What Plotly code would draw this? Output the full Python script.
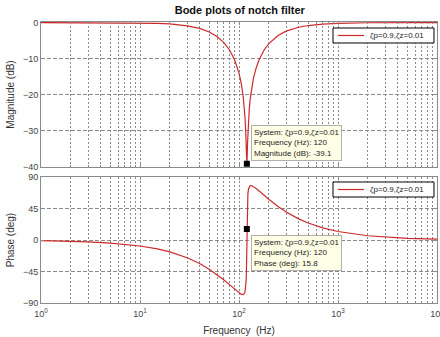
import plotly.graph_objects as go

# ---- data ----
freq_hz = [1, 2, 3, 5, 7, 10, 15, 20, 30, 40, 50, 60, 70, 80, 90, 100, 105, 110,
           113, 115, 117, 118, 119, 119.5, 120, 120.5, 121, 122, 123, 125, 127,
           130, 135, 140, 150, 160, 180, 200, 250, 300, 400, 500, 700, 1000,
           2000, 5000, 10000]
magnitude_db = [0.0, -0.004, -0.009, -0.024, -0.048, -0.098, -0.221, -0.395, -0.900,
                -1.630, -2.609, -3.873, -5.480, -7.530, -10.216, -13.983, -16.618,
                -20.266, -23.402, -26.279, -30.389, -33.260, -36.780, -38.387, -39.08,
                -38.392, -36.810, -33.366, -30.577, -26.621, -23.894, -20.976,
                -17.686, -15.400, -12.296, -10.216, -7.530, -5.851, -3.541, -2.392,
                -1.310, -0.828, -0.418, -0.204, -0.051, -0.008, -0.002]
phase_deg = [-0.85, -1.70, -2.55, -4.25, -5.95, -8.49, -12.73, -16.96, -25.34, -33.58,
             -41.65, -49.43, -56.84, -63.78, -70.08, -75.36, -77.27, -77.92, -76.74,
             -74.07, -66.83, -58.17, -39.39, -22.39, 0.0, 22.30, 39.16, 57.76, 66.38,
             73.64, 76.40, 77.80, 77.69, 76.55, 73.42, 70.08, 63.78, 58.27, 47.59,
             40.06, 30.31, 24.34, 17.43, 12.22, 6.12, 2.45, 1.22]

series_name = "ζp=0.9,ζz=0.01"
tip_freq = [120]
tip_mag = [-39.1]
tip_phase = [15.8]

decade_ticks = [1, 10, 100, 1000, 10000]
decade_labels = ["10<sup>0</sup>", "10<sup>1</sup>", "10<sup>2</sup>", "10<sup>3</sup>", "10<sup>4</sup>"]
grid_multipliers = [2, 3, 4, 5, 6, 7, 8, 9]
mag_ticks = [0, -10, -20, -30, -40]
phase_ticks = [90, 45, 0, -45, -90]

# ---- build ----
minor_vals = [m * d for d in decade_ticks[:-1] for m in grid_multipliers]

RED = "#cc2a2a"
FONT = "Liberation Sans, Arial, sans-serif"
GRID = "#8a8a8a"

fig = go.Figure()
fig.add_trace(go.Scatter(x=freq_hz, y=magnitude_db, mode="lines", name=series_name,
                         line=dict(color=RED, width=1.2), xaxis="x", yaxis="y",
                         showlegend=False))
fig.add_trace(go.Scatter(x=freq_hz, y=phase_deg, mode="lines", name=series_name,
                         line=dict(color=RED, width=1.2), xaxis="x2", yaxis="y2",
                         showlegend=False))
fig.add_trace(go.Scatter(x=tip_freq, y=tip_mag, mode="markers", showlegend=False,
                         marker=dict(symbol="square", size=6, color="black"),
                         xaxis="x", yaxis="y", cliponaxis=False))
fig.add_trace(go.Scatter(x=tip_freq, y=tip_phase, mode="markers", showlegend=False,
                         marker=dict(symbol="square", size=6, color="black"),
                         xaxis="x2", yaxis="y2"))

xcommon = dict(type="log", range=[0, 4], tickvals=decade_ticks, showgrid=True,
               gridcolor=GRID, griddash="2px,2px", gridwidth=1, showline=True,
               mirror="allticks", linecolor="#8a8a8a", linewidth=1, ticks="inside",
               ticklen=3, tickcolor="#8a8a8a", tickangle=0, automargin=False,
               minor=dict(tickvals=minor_vals, showgrid=True, gridcolor=GRID,
                          griddash="2px,2px", gridwidth=1, ticks="inside",
                          ticklen=2, tickcolor="#8a8a8a"),
               tickfont=dict(family=FONT, size=9, color="#444"), zeroline=False)
ycommon = dict(showgrid=True, gridcolor=GRID, griddash="4px,2px", gridwidth=1,
               showline=True, mirror="allticks", linecolor="#8a8a8a", linewidth=1,
               ticks="inside", ticklen=3, tickcolor="#8a8a8a", zeroline=False,
               automargin=False,
               tickfont=dict(family=FONT, size=9, color="#444"))

fig.update_layout(
    width=440, height=337,
    margin=dict(l=41, r=3, t=22, b=34),
    paper_bgcolor="white", plot_bgcolor="white",
    showlegend=False,
    title=dict(text="<b>Bode plots of notch filter</b>", x=0.545, xanchor="center",
               y=1 - 10 / 337, yanchor="middle",
               font=dict(family=FONT, size=11, color="#111")),
    xaxis=dict(xcommon, domain=[0, 1], anchor="y", showticklabels=False),
    yaxis=dict(ycommon, domain=[0.484, 1], anchor="x", range=[-40, 0.15],
               tickvals=mag_ticks,
               title=dict(text="Magnitude (dB)", standoff=6,
                          font=dict(family=FONT, size=10, color="#333"))),
    xaxis2=dict(xcommon, domain=[0, 1], anchor="y2", ticktext=decade_labels,
                ticklabelstandoff=2, ticklabeloverflow="allow",
                title=dict(text="Frequency  (Hz)", standoff=9,
                           font=dict(family=FONT, size=10, color="#333"))),
    yaxis2=dict(ycommon, domain=[0, 0.448], anchor="x2", range=[-90, 90],
                tickvals=phase_ticks,
                title=dict(text="Phase (deg)", standoff=6,
                           font=dict(family=FONT, size=10, color="#333"))),
)

# legend boxes (one per panel), in paper coordinates
for (y_top, y_bot, y_mid) in [(0.9786, 0.9253, 0.9520), (0.4306, 0.3772, 0.4039)]:
    fig.add_shape(type="rect", xref="paper", yref="paper", x0=0.7374, x1=0.9924,
                  y0=y_bot, y1=y_top, line=dict(color="black", width=1),
                  fillcolor="white", layer="above")
    fig.add_shape(type="line", xref="paper", yref="paper", x0=0.750, x1=0.8157,
                  y0=y_mid, y1=y_mid, line=dict(color=RED, width=1.2), layer="above")
    fig.add_annotation(xref="paper", yref="paper", x=0.8258, y=y_mid, xanchor="left",
                       yanchor="middle", showarrow=False, text=series_name,
                       font=dict(family=FONT, size=8, color="#222"))

tip_common = dict(xref="paper", yref="paper", xanchor="left", yanchor="top",
                  align="left", showarrow=False, bgcolor="#ffffe6",
                  bordercolor="#b0b0b0", borderwidth=1, borderpad=2,
                  font=dict(family=FONT, size=8, color="#222"))
fig.add_annotation(tip_common, x=0.530, y=0.633,
                   text=f"System: {series_name}<br>Frequency (Hz): {tip_freq[0]}"
                        f"<br>Magnitude (dB): {tip_mag[0]}")
fig.add_annotation(tip_common, x=0.530, y=0.242,
                   text=f"System: {series_name}<br>Frequency (Hz): {tip_freq[0]}"
                        f"<br>Phase (deg): {tip_phase[0]}")

fig.write_html("out.html")
